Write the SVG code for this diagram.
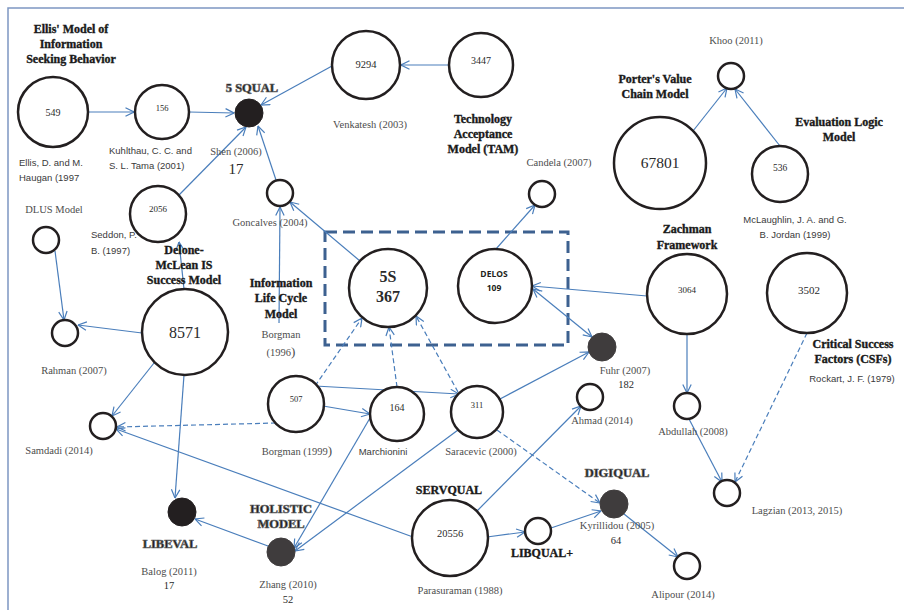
<svg xmlns="http://www.w3.org/2000/svg" width="904" height="610" viewBox="0 0 904 610">
<style>
.nd{fill:#fff;stroke:#231f20;stroke-width:2.5}
.blk{fill:#231f20;stroke:#231f20;stroke-width:1}
.gry{fill:#3f3c3d;stroke:#3f3c3d;stroke-width:1}
.c{fill:none;stroke:#4a7ebb;stroke-width:1.2;marker-end:url(#ah)}
.d{stroke-dasharray:5 3}
.both{marker-start:url(#ah)}
.lb{font-family:"Liberation Serif",serif;font-weight:bold;font-size:12px;fill:#1a1a1a;stroke:#1a1a1a;stroke-width:0.35;text-anchor:middle}
.hv{font-family:"Liberation Serif",serif;font-weight:bold;font-size:12.5px;fill:#141414;stroke:#666;stroke-width:0.7;text-anchor:middle}
.g{font-family:"Liberation Serif",serif;font-size:10.5px;fill:#4d4d4d;text-anchor:middle}
.s{font-family:"Liberation Sans",Arial,sans-serif;font-size:9.5px;fill:#3a3a3a}
.num{font-family:"Liberation Serif",serif;fill:#2a2a2a;text-anchor:middle}
</style>
<defs>
<marker id="ah" viewBox="0 0 10 10" refX="9.5" refY="5" markerWidth="10" markerHeight="10" markerUnits="userSpaceOnUse" orient="auto-start-reverse">
<path d="M1,0.8 L9.5,5 L1,9.2" fill="none" stroke="#4a7ebb" stroke-width="1.2"/>
</marker>
</defs>
<rect width="904" height="610" fill="#fff"/>
<path d="M8,610 V8 H904" fill="none" stroke="#7d97c2" stroke-width="1.5"/>
<rect id="group5S" x="325" y="232" width="243" height="113" fill="none" stroke="#3d6190" stroke-width="3" stroke-dasharray="12 6"/>

<g id="connectors">
<line class="c" x1="88" y1="112" x2="134" y2="112"/>
<line class="c" x1="189" y1="112" x2="234" y2="113"/>
<line class="c" x1="332" y1="66" x2="261" y2="105"/>
<line class="c" x1="449" y1="65" x2="401" y2="65"/>
<line class="c" x1="179" y1="195" x2="246" y2="127"/>
<line class="c" x1="276" y1="180" x2="258" y2="126"/>
<line class="c" x1="184" y1="289" x2="179" y2="242"/>
<line class="c" x1="55" y1="251" x2="64" y2="320"/>
<line class="c" x1="142" y1="333" x2="78" y2="325"/>
<line class="c" x1="154" y1="363" x2="112" y2="416"/>
<line class="c" x1="184" y1="375" x2="175" y2="498"/>
<line class="c" x1="279" y1="323" x2="280" y2="207"/>
<line class="c" x1="360" y1="261" x2="290" y2="202"/>
<line class="c" x1="496" y1="249" x2="535" y2="205"/>
<line class="c" x1="647" y1="296" x2="532" y2="286"/>
<line class="c both" x1="533" y1="289" x2="592" y2="337"/>
<line class="c" x1="500" y1="399" x2="589" y2="352"/>
<line class="c" x1="315" y1="386" x2="459" y2="394"/>
<line class="c" x1="323" y1="406" x2="370" y2="414"/>
<line class="c d" x1="315" y1="386" x2="362" y2="318"/>
<line class="c d" x1="397" y1="387" x2="389" y2="327"/>
<line class="c d" x1="458" y1="392" x2="416" y2="316"/>
<line class="c d" x1="276" y1="423" x2="117" y2="427"/>
<line class="c" x1="413" y1="537" x2="116" y2="429"/>
<line class="c" x1="370" y1="418" x2="294" y2="548"/>
<line class="c" x1="458" y1="430" x2="295" y2="551"/>
<line class="c" x1="268" y1="546" x2="195" y2="519"/>
<line class="c" x1="477" y1="511" x2="581" y2="406"/>
<line class="c" x1="487" y1="537" x2="525" y2="532"/>
<line class="c" x1="551" y1="528" x2="601" y2="511"/>
<line class="c d" x1="497" y1="430" x2="600" y2="503"/>
<line class="c" x1="624" y1="514" x2="678" y2="557"/>
<line class="c" x1="687" y1="334" x2="687" y2="393"/>
<line class="c" x1="689" y1="419" x2="722" y2="482"/>
<line class="c d" x1="807" y1="333" x2="735" y2="482"/>
<line class="c" x1="693" y1="131" x2="727" y2="88"/>
<line class="c" x1="780" y1="146" x2="735" y2="89"/>
</g>

<g id="ellis">
<circle class="nd" cx="53" cy="112" r="35"/>
<text class="num" x="53" y="116" font-size="10">549</text>
<text class="lb" x="71" y="33">Ellis' Model of</text>
<text class="lb" x="71" y="48">Information</text>
<text class="lb" x="71" y="63">Seeking Behavior</text>
<text class="s" x="19" y="166">Ellis, D. and M.</text>
<text class="s" x="19" y="181">Haugan (1997</text>
</g>
<g id="kuhlthau">
<circle class="nd" cx="162" cy="112" r="27"/>
<text class="num" x="162" y="111" font-size="8.5">156</text>
<text class="s" x="109" y="154">Kuhlthau, C. C. and</text>
<text class="s" x="109" y="169">S. L. Tama (2001)</text>
</g>
<g id="squal5">
<circle class="blk" cx="249" cy="113" r="14"/>
<text class="hv" x="252" y="92" font-size="12">5 SQUAL</text>
<text class="g" x="236" y="155">Shen (2006)</text>
<text class="num" x="236" y="174" font-size="15">17</text>
</g>
<g id="venkatesh">
<circle class="nd" cx="366" cy="65" r="34"/>
<text class="num" x="366" y="68" font-size="10.5">9294</text>
<text class="g" x="370" y="128">Venkatesh (2003)</text>
</g>
<g id="tam">
<circle class="nd" cx="481" cy="65" r="32"/>
<text class="num" x="481" y="64" font-size="10">3447</text>
<text class="lb" x="483" y="123">Technology</text>
<text class="lb" x="483" y="138">Acceptance</text>
<text class="lb" x="483" y="153">Model (TAM)</text>
</g>
<g id="candela">
<circle class="nd" cx="542" cy="194" r="13"/>
<text class="g" x="559" y="166">Candela (2007)</text>
</g>
<g id="khoo">
<circle class="nd" cx="731" cy="76" r="13"/>
<text class="g" x="736" y="44">Khoo (2011)</text>
</g>
<g id="porter">
<circle class="nd" cx="660" cy="163" r="46"/>
<text class="num" x="660" y="168" font-size="15.5">67801</text>
<text class="lb" x="655" y="83">Porter's Value</text>
<text class="lb" x="655" y="98">Chain Model</text>
</g>
<g id="evallogic">
<circle class="nd" cx="780" cy="174" r="28"/>
<text class="num" x="780" y="171" font-size="9.5">536</text>
<text class="lb" x="839" y="126">Evaluation Logic</text>
<text class="lb" x="839" y="141">Model</text>
<text class="s" x="795" y="223" text-anchor="middle">McLaughlin, J. A. and G.</text>
<text class="s" x="795" y="238" text-anchor="middle">B. Jordan (1999)</text>
</g>
<g id="seddon">
<circle class="nd" cx="158" cy="214" r="28"/>
<text class="num" x="158" y="212" font-size="9">2056</text>
<text class="s" x="91" y="238">Seddon, P.</text>
<text class="s" x="91" y="254">B. (1997)</text>
</g>
<g id="goncalves">
<circle class="nd" cx="280" cy="193" r="13"/>
<text class="g" x="270" y="226">Goncalves (2004)</text>
</g>
<g id="dlus">
<circle class="nd" cx="46" cy="240" r="13"/>
<text class="g" x="54" y="213">DLUS Model</text>
</g>
<g id="rahman">
<circle class="nd" cx="65" cy="333" r="13"/>
<text class="g" x="74" y="374">Rahman (2007)</text>
</g>
<g id="delone">
<circle class="nd" cx="185" cy="332" r="43"/>
<text class="num" x="185" y="338" font-size="16">8571</text>
<text class="lb" x="184" y="254">Delone-</text>
<text class="lb" x="184" y="269">McLean IS</text>
<text class="lb" x="184" y="284">Success Model</text>
</g>
<g id="samdadi">
<circle class="nd" cx="103" cy="426" r="13"/>
<text class="g" x="59" y="454">Samdadi (2014)</text>
</g>
<g id="ilc">
<text class="lb" x="281" y="287">Information</text>
<text class="lb" x="281" y="302">Life Cycle</text>
<text class="lb" x="281" y="318">Model</text>
<text class="g" x="281" y="338">Borgman</text>
<text class="g" x="281" y="356">(1996<tspan font-size="13">)</tspan></text>
</g>
<g id="s5">
<circle class="nd" cx="388" cy="288" r="39"/>
<text class="num" x="388" y="282" font-size="16" font-weight="bold">5S</text>
<text class="num" x="388" y="302" font-size="16" font-weight="bold">367</text>
</g>
<g id="delos">
<circle class="nd" cx="495" cy="286" r="37"/>
<text x="494" y="277" font-family="'Open Sans','Liberation Sans',sans-serif" font-size="8.5" font-weight="bold" fill="#231f20" text-anchor="middle">DELOS</text>
<text x="494" y="291" font-family="'Open Sans','Liberation Sans',sans-serif" font-size="8.5" font-weight="bold" fill="#231f20" text-anchor="middle">109</text>
</g>
<g id="fuhr">
<circle class="gry" cx="602" cy="347" r="14"/>
<text class="g" x="625" y="374">Fuhr (2007)</text>
<text class="num" x="626" y="388" font-size="10.5">182</text>
</g>
<g id="zachman">
<circle class="nd" cx="687" cy="294" r="40"/>
<text class="num" x="687" y="293" font-size="9">3064</text>
<text class="lb" x="687" y="233">Zachman</text>
<text class="lb" x="687" y="249">Framework</text>
</g>
<g id="csf">
<circle class="nd" cx="807" cy="293" r="40"/>
<text class="num" x="809" y="294" font-size="11">3502</text>
<text class="lb" x="853" y="348">Critical Success</text>
<text class="lb" x="853" y="363">Factors (CSFs)</text>
<text class="s" x="852" y="382" font-size="10.5" text-anchor="middle">Rockart, J. F. (1979)</text>
</g>
<g id="abdullah">
<circle class="nd" cx="687" cy="406" r="13"/>
<text class="g" x="693" y="435">Abdullah (2008)</text>
</g>
<g id="ahmad">
<circle class="nd" cx="590" cy="397" r="13"/>
<text class="g" x="602" y="424">Ahmad (2014)</text>
</g>
<g id="borgman1999">
<circle class="nd" cx="296" cy="404" r="28"/>
<text class="num" x="296" y="402" font-size="8.5">507</text>
<text class="g" x="297" y="455">Borgman (1999<tspan font-size="13">)</tspan></text>
</g>
<g id="marchionini">
<circle class="nd" cx="397" cy="414" r="27"/>
<text class="num" x="397" y="411" font-size="10">164</text>
<text class="s" x="383" y="455" text-anchor="middle">Marchionini</text>
</g>
<g id="saracevic">
<circle class="nd" cx="477" cy="412" r="26"/>
<text class="num" x="477" y="408" font-size="8.5">311</text>
<text class="g" x="481" y="455">Saracevic (2000)</text>
</g>
<g id="servqual">
<circle class="nd" cx="450" cy="538" r="38"/>
<text class="num" x="450" y="537" font-size="10.5">20556</text>
<text class="lb" x="449" y="494" font-size="10" stroke-width="0">SERVQUAL</text>
<text class="g" x="460" y="594">Parasuraman (1988)</text>
</g>
<g id="libqual">
<circle class="nd" cx="538" cy="531" r="13"/>
<text class="lb" x="542" y="557" font-size="10" stroke-width="0">LIBQUAL+</text>
</g>
<g id="digiqual">
<circle class="gry" cx="614" cy="504" r="14"/>
<text class="hv" x="617" y="477" font-size="12">DIGIQUAL</text>
<text class="g" x="617" y="529">Kyrillidou (2005)</text>
<text class="num" x="616" y="544" font-size="10.5">64</text>
</g>
<g id="alipour">
<circle class="nd" cx="687" cy="566" r="13"/>
<text class="g" x="683" y="598">Alipour (2014)</text>
</g>
<g id="lagzian">
<circle class="nd" cx="727" cy="493" r="13"/>
<text class="g" x="797" y="514">Lagzian (2013, 2015)</text>
</g>
<g id="libeval">
<circle class="blk" cx="182" cy="512" r="14"/>
<text class="hv" x="170" y="548" font-size="12.5">LIBEVAL</text>
<text class="g" x="169" y="575">Balog (2011)</text>
<text class="num" x="169" y="589" font-size="10.5">17</text>
</g>
<g id="zhang">
<circle class="gry" cx="281" cy="552" r="14"/>
<text class="hv" x="281" y="513" font-size="12.5">HOLISTIC</text>
<text class="hv" x="281" y="528" font-size="12.5">MODEL</text>
<text class="g" x="288" y="588">Zhang (2010)</text>
<text class="num" x="288" y="603" font-size="10.5">52</text>
</g>
</svg>
